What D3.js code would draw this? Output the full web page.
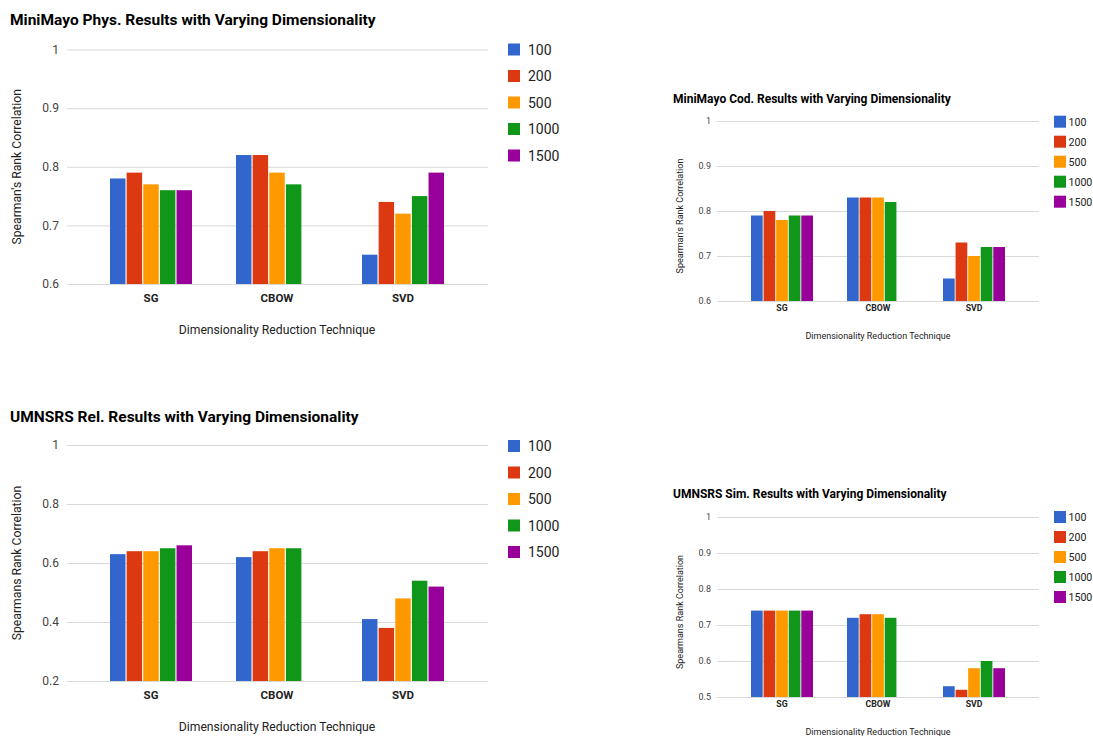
<!DOCTYPE html>
<html>
<head>
<meta charset="utf-8">
<script src="https://cdn.jsdelivr.net/npm/d3@7"></script>
<style>
  body { margin: 0; background: #fff; }
  svg { font-family: Roboto, Arial, sans-serif; }
</style>
</head>
<body>
<script>
// Data
const categories = ["SG", "CBOW", "SVD"];
const dims = ["100", "200", "500", "1000", "1500"];
const colors = ["#3366cc", "#dc3912", "#ff9900", "#109618", "#990099"];

// rows = technique, columns = dimensionality (null = no bar)
const physValues = [
  [0.78, 0.79, 0.77, 0.76, 0.76],
  [0.82, 0.82, 0.79, 0.77, null],
  [0.65, 0.74, 0.72, 0.75, 0.79]
];
const codValues = [
  [0.79, 0.80, 0.78, 0.79, 0.79],
  [0.83, 0.83, 0.83, 0.82, null],
  [0.65, 0.73, 0.70, 0.72, 0.72]
];
const relValues = [
  [0.63, 0.64, 0.64, 0.65, 0.66],
  [0.62, 0.64, 0.65, 0.65, null],
  [0.41, 0.38, 0.48, 0.54, 0.52]
];
const simValues = [
  [0.74, 0.74, 0.74, 0.74, 0.74],
  [0.72, 0.73, 0.73, 0.72, null],
  [0.53, 0.52, 0.58, 0.60, 0.58]
];

const physTicks = [0.6, 0.7, 0.8, 0.9, 1];
const codTicks = [0.6, 0.7, 0.8, 0.9, 1];
const relTicks = [0.2, 0.4, 0.6, 0.8, 1];
const simTicks = [0.5, 0.6, 0.7, 0.8, 0.9, 1];

const xTitle = "Dimensionality Reduction Technique";

const W = 1093, H = 736;
const svg = d3.select("body").append("svg")
  .attr("width", W)
  .attr("height", H);

// big = left column charts, small = right column charts
const big = {
  titleSize: 15.5, tickSize: 12, catSize: 11.5, axisSize: 12.2, legendSize: 14,
  sw: 12, legendStep: 26.5, legendDx: 20, groupW: 82, catDy: 19, xTitleDy: 50
};
const small = {
  titleSize: 12, tickSize: 9, catSize: 8.7, axisSize: 9, legendSize: 10.6,
  sw: 12, legendStep: 20, legendDx: 14.5, groupW: 62, catDy: 13, xTitleDy: 38
};

function drawChart(cfg) {
  const s = cfg.style;
  const g = svg.append("g");

  // title
  g.append("text")
    .attr("x", cfg.titleX)
    .attr("y", cfg.titleY)
    .attr("font-size", s.titleSize)
    .attr("font-weight", "bold")
    .attr("fill", "#000")
    .text(cfg.title);

  const y = d3.scaleLinear()
    .domain([cfg.ticks[0], cfg.ticks[cfg.ticks.length - 1]])
    .range([cfg.bottom, cfg.top]);

  // gridlines + tick labels
  const yAxis = g.append("g")
    .attr("transform", `translate(${cfg.gridL},0)`)
    .call(d3.axisLeft(y)
      .tickValues(cfg.ticks)
      .tickSize(-(cfg.gridR - cfg.gridL))
      .tickPadding(cfg.tickPad)
      .tickFormat(d3.format("~g")));
  yAxis.select(".domain").remove();
  yAxis.selectAll(".tick line").attr("stroke", "#d9d9d9").attr("stroke-width", 1);
  yAxis.selectAll(".tick text")
    .attr("fill", "#444")
    .attr("font-size", s.tickSize)
    .attr("font-family", "Roboto, Arial, sans-serif");

  // category scale: band centres line up with the labels
  const x0 = d3.scaleBand()
    .domain(categories)
    .range([cfg.bandL, cfg.bandR]);
  const x1 = d3.scaleBand()
    .domain(dims)
    .range([0, s.groupW])
    .paddingInner(0.07);

  const groups = g.selectAll(".grp")
    .data(categories)
    .join("g")
    .attr("class", "grp")
    .attr("transform", c => `translate(${x0(c) + x0.bandwidth() / 2 - s.groupW / 2},0)`);

  groups.selectAll("rect")
    .data((c, ci) => dims.map((d, di) => ({ dim: d, i: di, v: cfg.values[ci][di] }))
      .filter(d => d.v != null))
    .join("rect")
    .attr("x", d => x1(d.dim))
    .attr("width", x1.bandwidth())
    .attr("y", d => y(d.v))
    .attr("height", d => y(cfg.ticks[0]) - y(d.v))
    .attr("fill", d => colors[d.i]);

  // category labels
  const xAxis = g.append("g")
    .attr("transform", `translate(0,${cfg.bottom})`)
    .call(d3.axisBottom(x0).tickSize(0).tickPadding(s.catDy - 9));
  xAxis.select(".domain").remove();
  xAxis.selectAll(".tick text")
    .attr("font-size", s.catSize)
    .attr("font-weight", "bold")
    .attr("fill", "#222")
    .attr("font-family", "Roboto, Arial, sans-serif");

  // axis titles
  g.append("text")
    .attr("x", (cfg.bandL + cfg.bandR) / 2)
    .attr("y", cfg.bottom + s.xTitleDy)
    .attr("text-anchor", "middle")
    .attr("font-size", s.axisSize)
    .attr("fill", "#222")
    .text(xTitle);

  g.append("text")
    .attr("transform", `translate(${cfg.yTitleX},${(cfg.top + cfg.bottom) / 2 + cfg.yTitleShift}) rotate(-90)`)
    .attr("text-anchor", "middle")
    .attr("font-size", s.axisSize)
    .attr("fill", "#222")
    .text(cfg.yTitle);

  // legend
  const leg = g.append("g")
    .attr("transform", `translate(${cfg.legX},${cfg.legY})`);
  dims.forEach((d, i) => {
    leg.append("rect")
      .attr("x", 0)
      .attr("y", i * s.legendStep - s.sw / 2)
      .attr("width", s.sw)
      .attr("height", s.sw)
      .attr("fill", colors[i]);
    leg.append("text")
      .attr("x", s.legendDx)
      .attr("y", i * s.legendStep)
      .attr("dy", "0.36em")
      .attr("font-size", s.legendSize)
      .attr("fill", "#222")
      .text(d);
  });
}

drawChart({
  style: big, title: "MiniMayo Phys. Results with Varying Dimensionality",
  titleX: 10, titleY: 25, values: physValues, ticks: physTicks,
  top: 49.5, bottom: 284, gridL: 67, gridR: 488, bandL: 88, bandR: 466,
  tickPad: 8, yTitleX: 21, yTitleShift: 0,
  yTitle: "Spearman's Rank Correlation", legX: 508, legY: 49.5
});

drawChart({
  style: small, title: "MiniMayo Cod. Results with Varying Dimensionality",
  titleX: 673, titleY: 103, values: codValues, ticks: codTicks,
  top: 121, bottom: 301, gridL: 717, gridR: 1039, bandL: 734, bandR: 1022,
  tickPad: 6, yTitleX: 683, yTitleShift: 5,
  yTitle: "Spearman's Rank Correlation", legX: 1054, legY: 121.7
});

drawChart({
  style: big, title: "UMNSRS Rel. Results with Varying Dimensionality",
  titleX: 10, titleY: 422, values: relValues, ticks: relTicks,
  top: 445, bottom: 681, gridL: 67, gridR: 488, bandL: 88, bandR: 466,
  tickPad: 8, yTitleX: 21, yTitleShift: 0,
  yTitle: "Spearmans Rank Correlation", legX: 508, legY: 446
});

drawChart({
  style: small, title: "UMNSRS Sim. Results with Varying Dimensionality",
  titleX: 673, titleY: 498, values: simValues, ticks: simTicks,
  top: 517, bottom: 697, gridL: 717, gridR: 1039, bandL: 734, bandR: 1022,
  tickPad: 6, yTitleX: 683, yTitleShift: 5,
  yTitle: "Spearmans Rank Correlation", legX: 1054, legY: 517
});
</script>
</body>
</html>
